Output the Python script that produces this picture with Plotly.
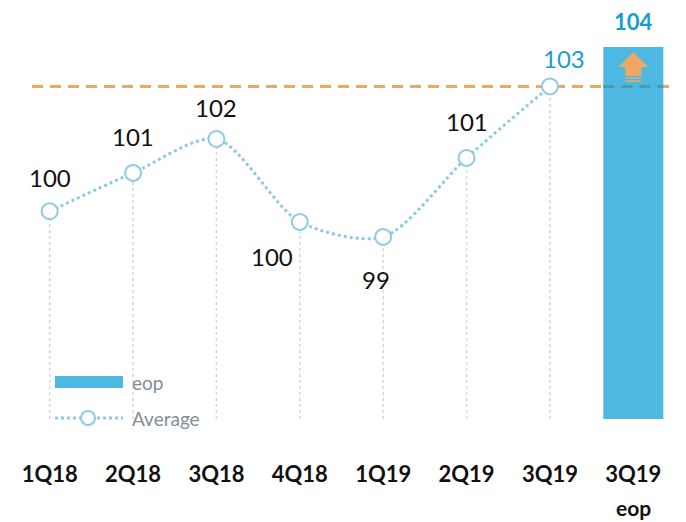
import plotly.graph_objects as go

# ---------------- data ----------------
categories = ["1Q18", "2Q18", "3Q18", "4Q18", "1Q19", "2Q19", "3Q19", "3Q19 eop"]
tick_labels = ["1Q18", "2Q18", "3Q18", "4Q18", "1Q19", "2Q19", "3Q19", "3Q19"]
eop_sublabel = "eop"
line_categories = categories[:7]
average_values = [99.84, 100.81, 101.67, 99.57, 99.19, 101.19, 103.0]
eop_category = [categories[7]]
eop_values = [104.0]
reference_level = 103.0
legend_names = ["eop", "Average"]

# ---------------- styles / positions ----------------
W, H = 686, 522
OFF = 8  # page body offset (screen px = figure px + OFF)
ML, MR, MT, MB = 0, 19, 0, 111
Y_RANGE = [94.58, 104.985]
BAR_COLOR = "#4DB8E2"
LINE_COLOR = "#8DCCE0"
ORANGE = "#EFA766"
GRID_COLOR = "#D6D6D6"
LEGEND_TEXT = "#7F8E98"
BLUE_TEXT = "#1A9BD7"
FONT = "Lato"
TICK_FONT = "Liberation Sans Narrow, Arial Narrow, Lato"
label_offsets = [(0, 34), (0, 36), (0, 31), (-28, -35), (-7, -43), (0, 36), (14, 28)]
label_colors = ["#111111"] * 6 + [BLUE_TEXT]

PW = W - ML - MR
PH = H - MT - MB


def px2paper_x(px):
    return (px - OFF - ML) / PW


def px2paper_y(py):
    return (H - MB - (py - OFF)) / PH


fig = go.Figure()

# drop lines from each point to the bottom
for c, v in zip(line_categories, average_values):
    fig.add_trace(go.Scatter(
        x=[c, c], y=[Y_RANGE[0], v], mode="lines",
        line=dict(color=GRID_COLOR, width=1.5, dash="dot"),
        hoverinfo="skip", showlegend=False,
    ))

# bar
fig.add_trace(go.Bar(
    x=eop_category, y=eop_values, name=legend_names[0],
    marker=dict(color=BAR_COLOR, line=dict(width=0)),
    width=0.72, showlegend=False,
))

# average line
fig.add_trace(go.Scatter(
    x=line_categories, y=average_values, name=legend_names[1],
    mode="lines+markers",
    line=dict(color=LINE_COLOR, width=3, dash="dot", shape="spline", smoothing=0.8),
    marker=dict(symbol="circle", size=16, color="white",
                line=dict(color=LINE_COLOR, width=2)),
    showlegend=False,
))

annotations = []
for c, v, (dx, dy), col in zip(line_categories, average_values, label_offsets, label_colors):
    annotations.append(dict(
        x=c, y=v, xref="x", yref="y", text=f"{v:.0f}", showarrow=False,
        xshift=dx, yshift=dy, font=dict(family=FONT, size=24, color=col),
    ))
# bar label
annotations.append(dict(
    x=eop_category[0], y=eop_values[0], xref="x", yref="y",
    text=f"<b>{eop_values[0]:.0f}</b>", showarrow=False, yshift=25, borderpad=0,
    font=dict(family=FONT, size=22, color=BLUE_TEXT),
))
# second line of the last tick label
annotations.append(dict(
    x=eop_category[0], y=px2paper_y(507), xref="x", yref="paper",
    text=f"<b>{eop_sublabel}</b>", showarrow=False, yanchor="middle", borderpad=0,
    font=dict(family=TICK_FONT, size=21, color="#111111"),
))
# legend texts
annotations.append(dict(
    x=px2paper_x(130), y=px2paper_y(382), xref="paper", yref="paper",
    text=legend_names[0], showarrow=False, xanchor="left", yanchor="middle",
    font=dict(family=FONT, size=19, color=LEGEND_TEXT),
))
annotations.append(dict(
    x=px2paper_x(130), y=px2paper_y(418), xref="paper", yref="paper",
    text=legend_names[1], showarrow=False, xanchor="left", yanchor="middle",
    font=dict(family=FONT, size=19, color=LEGEND_TEXT),
))

shapes = [
    dict(type="line", xref="paper", yref="y",
         x0=px2paper_x(32), x1=px2paper_x(669), y0=reference_level, y1=reference_level,
         line=dict(color=ORANGE, width=3, dash="11px,7px"), layer="below"),
    dict(type="line", xref="x", yref="y",
         x0=7 - 0.36, x1=7 + 0.36, y0=reference_level, y1=reference_level,
         line=dict(color="#4A9DAF", width=3, dash="11px,7px"), layer="above"),
    dict(type="path", xref="x", yref="y", xsizemode="pixel", ysizemode="pixel",
         xanchor=7, yanchor=eop_values[0],
         path="M 0,-5 L 15,-20 L 8,-20 L 8,-29 L -8,-29 L -8,-20 L -15,-20 Z",
         fillcolor=ORANGE, line=dict(width=0), layer="above"),
    dict(type="path", xref="x", yref="y", xsizemode="pixel", ysizemode="pixel",
         xanchor=7, yanchor=eop_values[0],
         path="M -8,-30.5 L 8,-30.5 L 8,-32 L -8,-32 Z",
         fillcolor=ORANGE, line=dict(width=0), layer="above"),
    dict(type="path", xref="x", yref="y", xsizemode="pixel", ysizemode="pixel",
         xanchor=7, yanchor=eop_values[0],
         path="M -8,-33.5 L 8,-33.5 L 8,-35 L -8,-35 Z",
         fillcolor=ORANGE, line=dict(width=0), layer="above"),
    dict(type="rect", xref="paper", yref="paper",
         x0=px2paper_x(55), x1=px2paper_x(123), y0=px2paper_y(388), y1=px2paper_y(376),
         fillcolor=BAR_COLOR, line=dict(width=0)),
    dict(type="line", xref="paper", yref="paper",
         x0=px2paper_x(55), x1=px2paper_x(123), y0=px2paper_y(418), y1=px2paper_y(418),
         line=dict(color=LINE_COLOR, width=3, dash="dot")),
    dict(type="circle", xref="paper", yref="paper",
         x0=px2paper_x(81), x1=px2paper_x(95), y0=px2paper_y(425), y1=px2paper_y(411),
         fillcolor="white", line=dict(color=LINE_COLOR, width=2)),
]

fig.update_layout(
    width=W, height=H,
    margin=dict(l=ML, r=MR, t=MT, b=MB, pad=0),
    plot_bgcolor="white", paper_bgcolor="white",
    showlegend=False,
    annotations=annotations,
    shapes=shapes,
    xaxis=dict(type="category", categoryorder="array", categoryarray=categories,
               tickvals=categories, ticktext=tick_labels,
               range=[-0.5, 7.5], showgrid=False, showline=False, zeroline=False,
               ticks="", ticklabelstandoff=40,
               tickfont=dict(family=TICK_FONT, size=22, color="#111111", weight="bold")),
    yaxis=dict(range=Y_RANGE, visible=False, showgrid=False, zeroline=False),
    font=dict(family=FONT),
)

fig.write_html("out.html")
